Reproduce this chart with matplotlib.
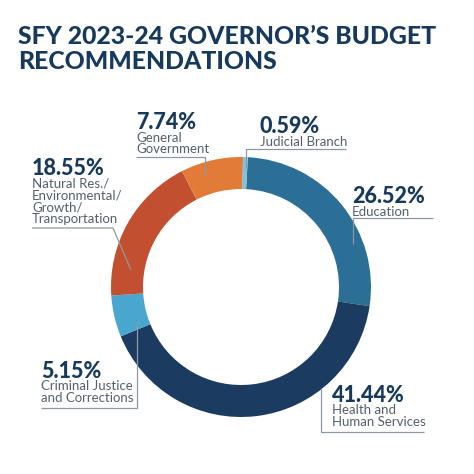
import matplotlib
matplotlib.use('Agg')
import matplotlib.pyplot as plt

# budget shares, clockwise from the top of the ring
categories = ['Education', 'Health and\nHuman Services', 'Criminal Justice\nand Corrections',
              'Natural Res./\nEnvironmental/\nGrowth/\nTransportation', 'General\nGovernment',
              'Judicial Branch']
shares = [26.52, 41.44, 5.15, 18.55, 7.74, 0.59]
colors = ['#2b6f96', '#1b3b60', '#49a6cf', '#c24f2f', '#e27b38', '#7cc3e1']

NAVY = '#173a5c'
GREY = '#55606d'
LINE = '#8e98a3'

fig = plt.figure(figsize=(4.74, 4.74), dpi=100)
ax = fig.add_axes([0, 0, 1, 1])

# pixel-like coordinates, y pointing down, so counterclock=True runs clockwise on screen
ax.pie(shares, colors=colors, center=(241, 287), radius=130, startangle=-87,
       counterclock=True, wedgeprops=dict(width=32, linewidth=0))
ax.set_xlim(0, 474)
ax.set_ylim(474, 0)
ax.set_aspect('equal')
ax.axis('off')

# title
ax.text(18, 25, "SFY 2023-24 GOVERNOR\u2019S BUDGET\nRECOMMENDATIONS", ha='left', va='top',
        fontsize=17.8, fontweight='black', family='Lato', color=NAVY, linespacing=1.1)

# label: (text x, pct top y, leader path)
labels = [
    (352, 186, [(433, 218), (353, 218), (353, 244)]),
    (332, 385, [(424, 432), (321, 432), (321, 388)]),
    (41, 361, [(41, 408), (137, 408), (137, 322)]),
    (32, 158, [(32, 228), (113, 228), (131, 270)]),
    (136, 112, [(136, 157), (205, 157), (205, 176)]),
    (260, 116, [(346, 149), (246, 149), (246, 168)]),
]

for (x, y, path), name, value in zip(labels, categories, shares):
    ax.text(x, y, '%.2f%%' % value, ha='left', va='top', fontsize=15.5,
            fontweight='black', family='Lato', color=NAVY)
    ax.text(x, y + 19.5, name, ha='left', va='top', fontsize=9.5, family='Lato',
            fontweight='normal', color=GREY, linespacing=0.98)
    xs, ys = zip(*path)
    ax.plot(xs, ys, color=LINE, lw=0.9, solid_capstyle='butt')

fig.savefig('out.png', dpi=100)
